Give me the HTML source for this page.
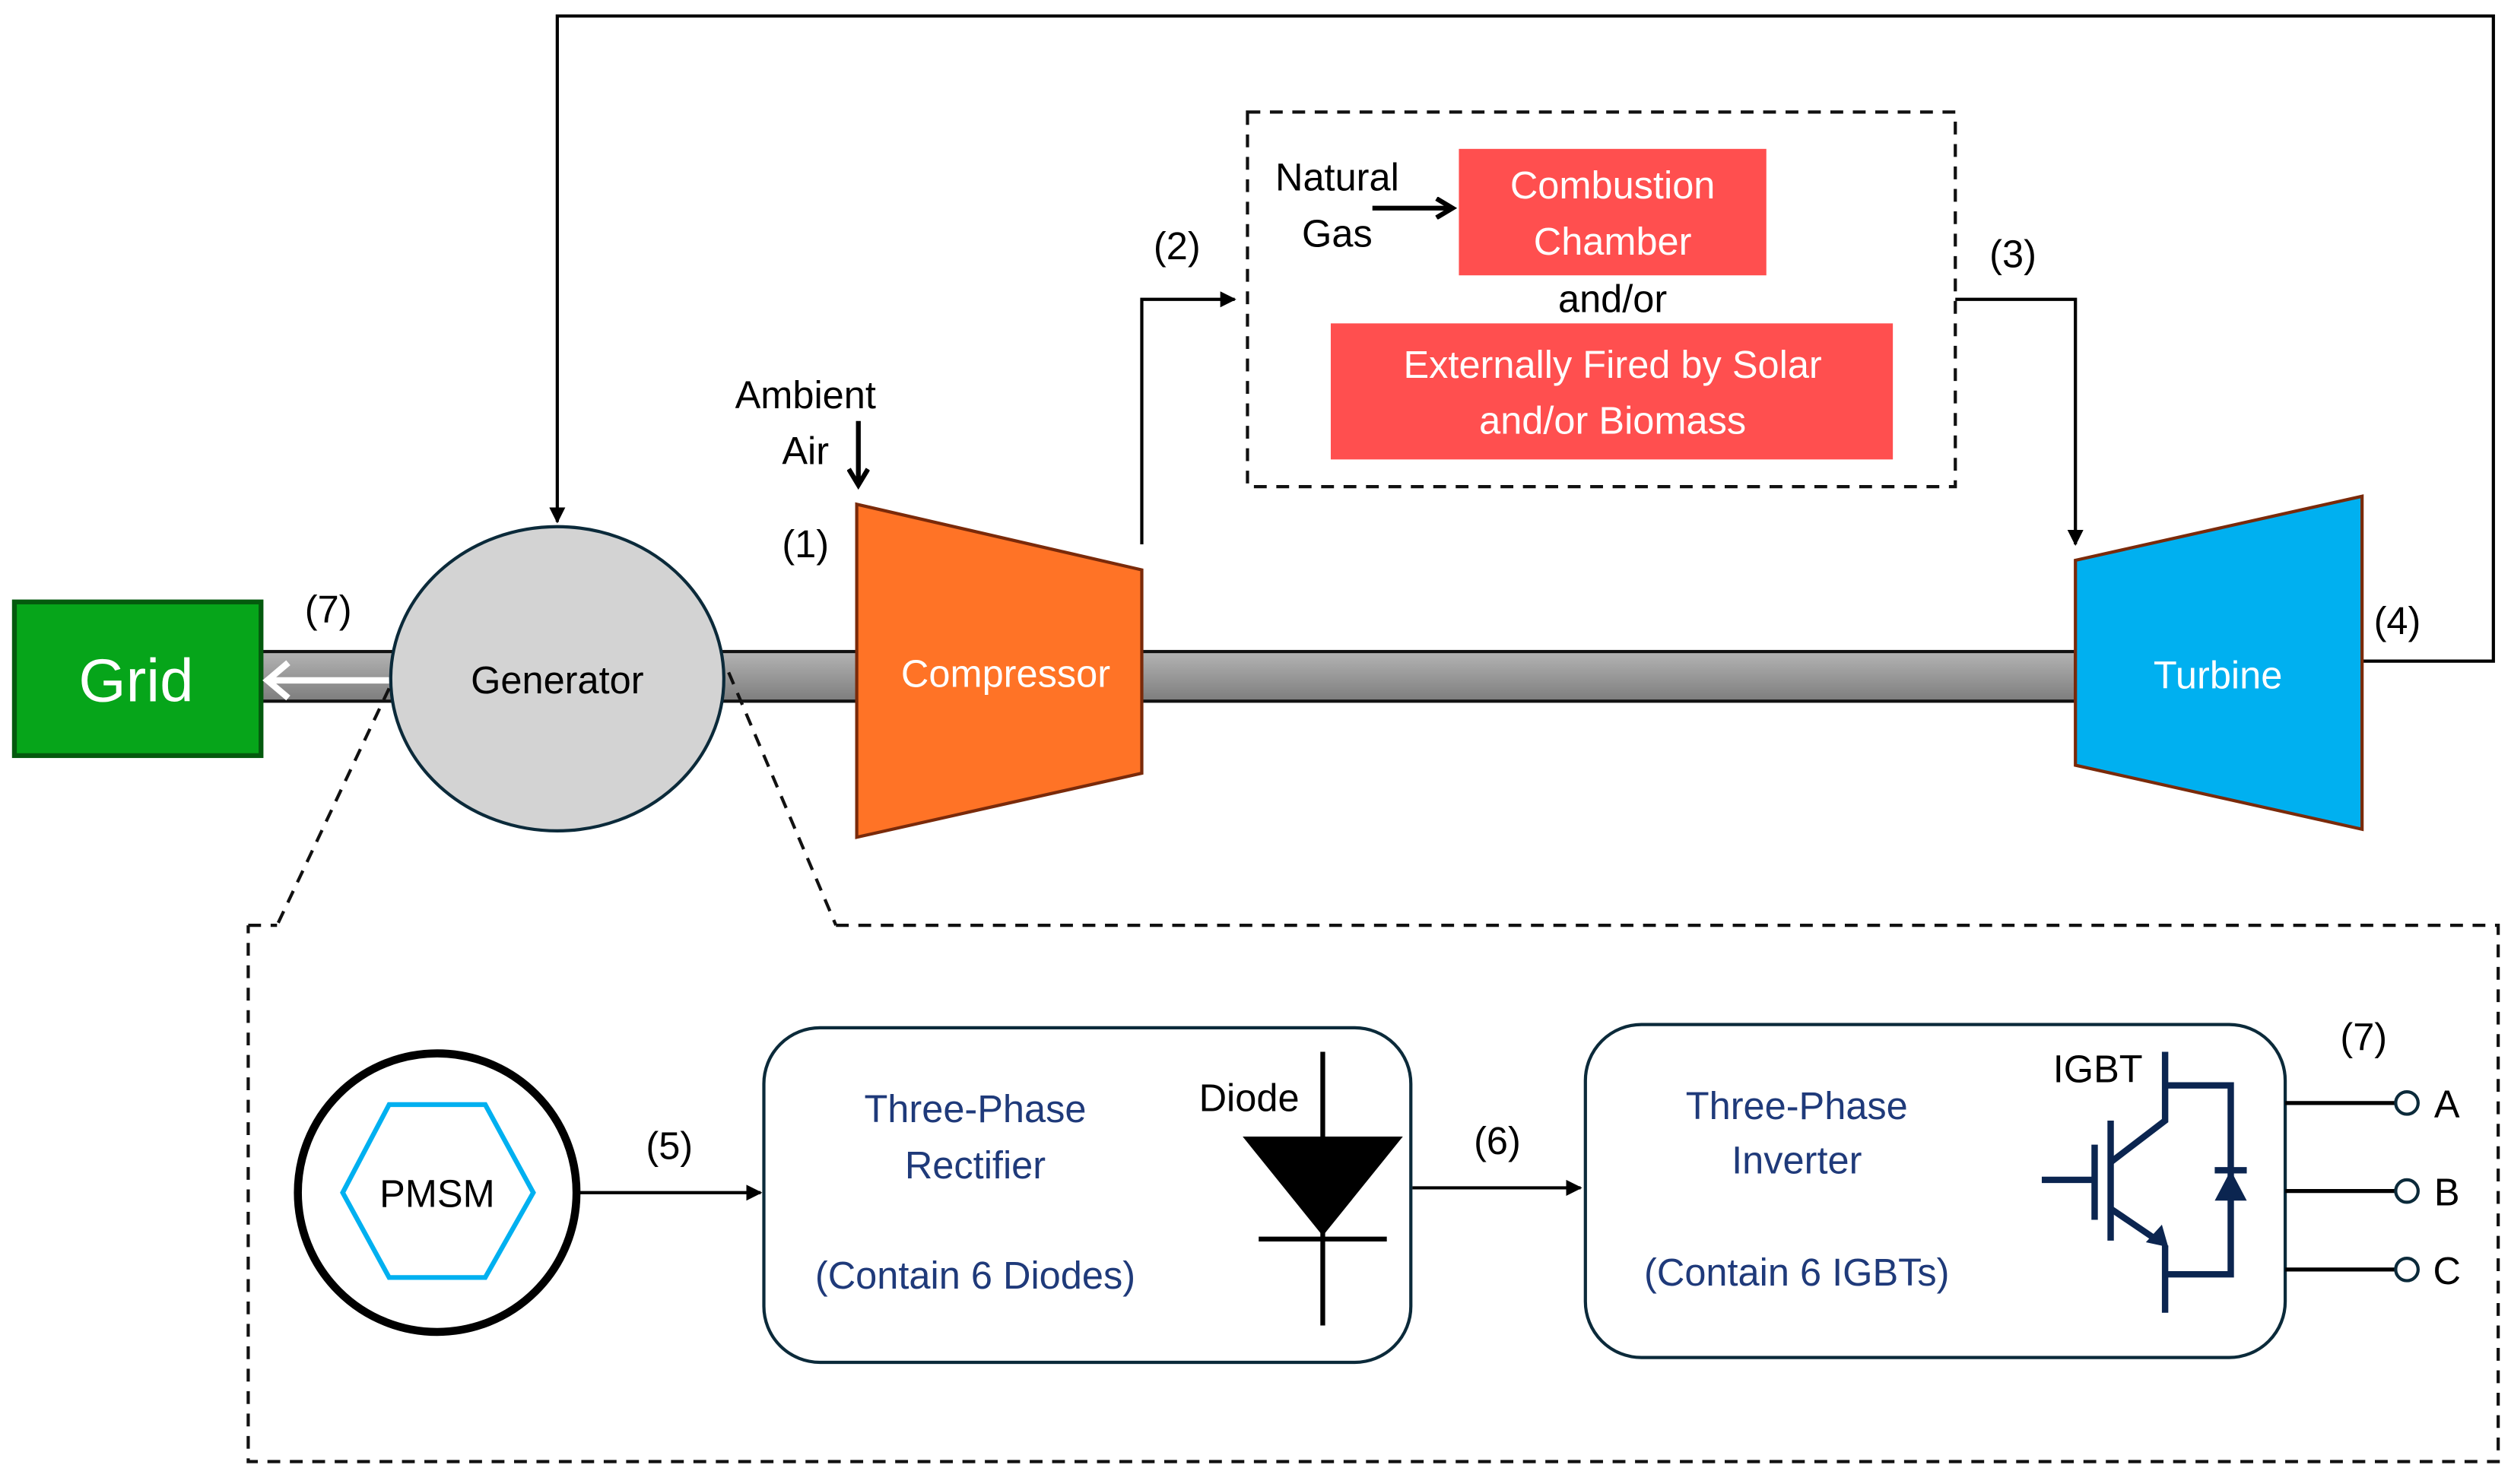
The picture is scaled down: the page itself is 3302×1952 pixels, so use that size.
<!DOCTYPE html>
<html><head><meta charset="utf-8"><style>html,body{margin:0;padding:0;background:#fff;}svg{display:block}</style></head>
<body>
<svg width="3302" height="1952" viewBox="0 0 1568 927" preserveAspectRatio="none" xmlns="http://www.w3.org/2000/svg" font-family="Liberation Sans, sans-serif">
<defs>
<marker id="ah" markerWidth="10" markerHeight="10" refX="9" refY="5" orient="auto" markerUnits="userSpaceOnUse"><path d="M0,0 L10,5 L0,10 Z" fill="#000"/></marker>
<marker id="ah2" markerWidth="14" markerHeight="14" refX="10" refY="7" orient="auto" markerUnits="userSpaceOnUse"><path d="M1,1 L11,7 L1,13" fill="none" stroke="#000" stroke-width="3"/></marker>
<linearGradient id="sh" x1="0" y1="0" x2="0" y2="1"><stop offset="0" stop-color="#b4b4b4"/><stop offset="1" stop-color="#7d7d7d"/></linearGradient>
</defs>
<rect x="163" y="407" width="1133" height="31" fill="url(#sh)" stroke="#111" stroke-width="2"/>
<rect x="9" y="376" width="154" height="96" fill="#06a51a" stroke="#045a0e" stroke-width="3"/>
<text x="85" y="438" font-size="38" fill="#fff" text-anchor="middle">Grid</text>
<path d="M243,425 L168,425 M180,414 L167,425 L180,436" stroke="#fff" stroke-width="4" fill="none"/>
<text x="205" y="389" font-size="24" text-anchor="middle">(7)</text>
<path d="M1475,413 L1557,413 L1557,10 L348,10 L348,326" fill="none" stroke="#000" stroke-width="2" marker-end="url(#ah)"/>
<ellipse cx="348" cy="424" rx="104" ry="95" fill="#d3d3d3" stroke="#0b2a3a" stroke-width="2"/>
<text x="348" y="433" font-size="24" text-anchor="middle">Generator</text>
<polygon points="535,315 713,356 713,483 535,523" fill="#ff7326" stroke="#7a2a0a" stroke-width="2"/>
<text x="628" y="429" font-size="24" fill="#fff" text-anchor="middle">Compressor</text>
<polygon points="1296,350 1475,310 1475,518 1296,478" fill="#00b0f0" stroke="#7a2a0a" stroke-width="2"/>
<text x="1385" y="430" font-size="24" fill="#fff" text-anchor="middle">Turbine</text>
<text x="503" y="255" font-size="24" text-anchor="middle">Ambient</text>
<text x="503" y="290" font-size="24" text-anchor="middle">Air</text>
<path d="M536,263 L536,302" stroke="#000" stroke-width="3" marker-end="url(#ah2)"/>
<text x="503" y="348" font-size="24" text-anchor="middle">(1)</text>
<path d="M713,340 L713,187 L771,187" fill="none" stroke="#000" stroke-width="2" marker-end="url(#ah)"/>
<text x="735" y="162" font-size="24" text-anchor="middle">(2)</text>
<rect x="779" y="70" width="442" height="234" fill="none" stroke="#111" stroke-width="2" stroke-dasharray="8,6"/>
<text x="835" y="119" font-size="24" text-anchor="middle">Natural</text>
<text x="835" y="154" font-size="24" text-anchor="middle">Gas</text>
<path d="M857,130 L906,130" stroke="#000" stroke-width="3" marker-end="url(#ah2)"/>
<rect x="911" y="93" width="192" height="79" fill="#ff4f4f"/>
<text x="1007" y="124" font-size="24" fill="#fff" text-anchor="middle">Combustion</text>
<text x="1007" y="159" font-size="24" fill="#fff" text-anchor="middle">Chamber</text>
<text x="1007" y="195" font-size="24" text-anchor="middle">and/or</text>
<rect x="831" y="202" width="351" height="85" fill="#ff4f4f"/>
<text x="1007" y="236" font-size="24" fill="#fff" text-anchor="middle">Externally Fired by Solar</text>
<text x="1007" y="271" font-size="24" fill="#fff" text-anchor="middle">and/or Biomass</text>
<path d="M1221,187 L1296,187 L1296,340" fill="none" stroke="#000" stroke-width="2" marker-end="url(#ah)"/>
<text x="1257" y="167" font-size="24" text-anchor="middle">(3)</text>
<text x="1497" y="396" font-size="24" text-anchor="middle">(4)</text>
<path d="M243,430 L173,578 M455,420 L522,578" stroke="#111" stroke-width="2" stroke-dasharray="8,6" fill="none"/>
<path d="M155,578 L173,578 M522,578 L1560,578 L1560,913 L155,913 L155,578" fill="none" stroke="#111" stroke-width="2" stroke-dasharray="8,6"/>
<circle cx="273" cy="745" r="87" fill="#fff" stroke="#000" stroke-width="5"/>
<polygon points="214,745 243,690 303,690 333,745 303,798 243,798" fill="none" stroke="#00b0f0" stroke-width="3"/>
<text x="273" y="754" font-size="24" text-anchor="middle">PMSM</text>
<path d="M362,745 L475,745" stroke="#000" stroke-width="2" marker-end="url(#ah)"/>
<text x="418" y="724" font-size="24" text-anchor="middle">(5)</text>
<rect x="477" y="642" width="404" height="209" rx="35" fill="#fff" stroke="#0b2a3a" stroke-width="2"/>
<g fill="#1f3a7a" font-size="24" text-anchor="middle">
<text x="609" y="701">Three-Phase</text><text x="609" y="736">Rectifier</text><text x="609" y="805">(Contain 6 Diodes)</text>
</g>
<text x="780" y="694" font-size="24" text-anchor="middle">Diode</text>
<path d="M826,657 L826,828 M786,774 L866,774" stroke="#000" stroke-width="3"/>
<polygon points="776,710 876,710 826,772" fill="#000"/>
<path d="M882,742 L987,742" stroke="#000" stroke-width="2" marker-end="url(#ah)"/>
<text x="935" y="721" font-size="24" text-anchor="middle">(6)</text>
<rect x="990" y="640" width="437" height="208" rx="35" fill="#fff" stroke="#0b2a3a" stroke-width="2"/>
<g fill="#1f3a7a" font-size="24" text-anchor="middle">
<text x="1122" y="699">Three-Phase</text><text x="1122" y="733">Inverter</text><text x="1122" y="803">(Contain 6 IGBTs)</text>
</g>
<text x="1310" y="676" font-size="24" text-anchor="middle">IGBT</text>
<g stroke="#0b2550" stroke-width="4" fill="none">
<path d="M1352,657 L1352,700 L1318,726"/>
<path d="M1318,700 L1318,775"/>
<path d="M1308,715 L1308,762"/>
<path d="M1275,737 L1308,737"/>
<path d="M1318,755 L1346,774"/>
<path d="M1352,778 L1352,820"/>
<path d="M1352,678 L1393,678 L1393,796 L1352,796"/>
<path d="M1383,731 L1403,731"/>
</g>
<polygon points="1340,776 1354,779 1350,765" fill="#0b2550"/>
<polygon points="1383,750 1403,750 1393,731" fill="#0b2550"/>
<g stroke="#000" stroke-width="2.5">
<path d="M1427,689 L1496,689 M1427,744 L1496,744 M1427,793 L1496,793"/>
</g>
<g fill="#fff" stroke="#0b2a3a" stroke-width="2">
<circle cx="1503" cy="689" r="7"/><circle cx="1503" cy="744" r="7"/><circle cx="1503" cy="793" r="7"/>
</g>
<g font-size="24" text-anchor="middle">
<text x="1528" y="698">A</text><text x="1528" y="753">B</text><text x="1528" y="802">C</text>
<text x="1476" y="656">(7)</text>
</g>
</svg>
</body></html>
